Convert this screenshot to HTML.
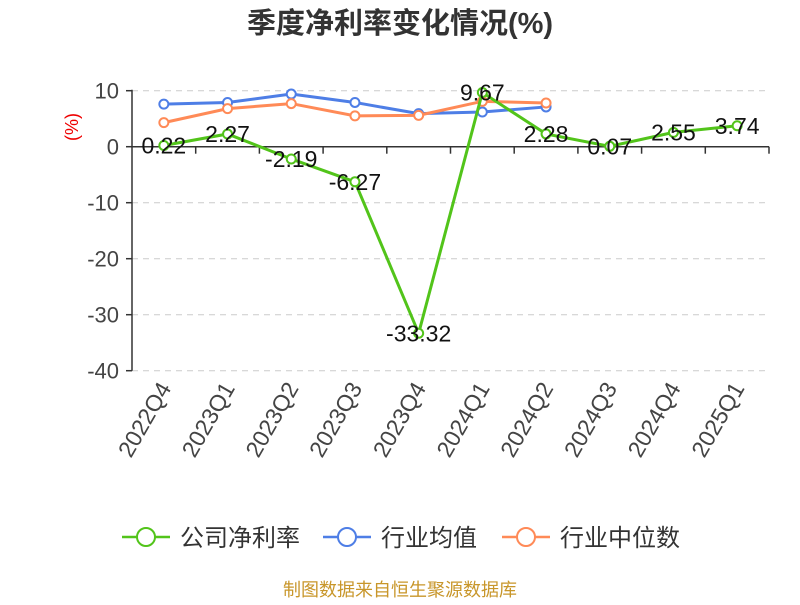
<!DOCTYPE html>
<html><head><meta charset="utf-8"><style>
body{margin:0;background:#fff;width:800px;height:600px;overflow:hidden;font-family:"Liberation Sans","Noto Sans CJK SC",sans-serif}
</style></head><body>
<svg id="c" width="800" height="600" font-family="Liberation Sans, Noto Sans CJK SC, sans-serif">
<text x="400" y="33" text-anchor="middle" font-size="29" font-weight="bold" fill="#333">季度净利率变化情况(%)</text>
<text x="78" y="127" transform="rotate(-90 78 127)" text-anchor="middle" font-size="18" fill="#e00">(%)</text>
<g id="grid"></g><g id="axes"></g><g id="series"></g>
<g font-size="24" fill="#333">
<g><line x1="122" y1="537" x2="170" y2="537" stroke="#52c41a" stroke-width="2.5"/><circle cx="146" cy="537" r="9" fill="#fff" stroke="#52c41a" stroke-width="2"/><text x="180" y="546">公司净利率</text></g>
<g><line x1="323" y1="537" x2="371" y2="537" stroke="#4e7ee6" stroke-width="2.5"/><circle cx="347" cy="537" r="9" fill="#fff" stroke="#4e7ee6" stroke-width="2"/><text x="381" y="546">行业均值</text></g>
<g><line x1="502" y1="537" x2="550" y2="537" stroke="#ff8a57" stroke-width="2.5"/><circle cx="526" cy="537" r="9" fill="#fff" stroke="#ff8a57" stroke-width="2"/><text x="560" y="546">行业中位数</text></g>
</g>
<text x="400" y="596" text-anchor="middle" font-size="18" fill="#c8962a">制图数据来自恒生聚源数据库</text>
</svg>
<script>
const categories=["2022Q4","2023Q1","2023Q2","2023Q3","2023Q4","2024Q1","2024Q2","2024Q3","2024Q4","2025Q1"];
const company=[0.22,2.27,-2.19,-6.27,-33.32,9.67,2.28,0.07,2.55,3.74];
const industryAvg=[7.6,7.9,9.4,7.9,5.9,6.2,7.1];
const industryMedian=[4.3,6.8,7.7,5.5,5.6,8.1,7.8];
const yTicks=[10,0,-10,-20,-30,-40];
const NS="http://www.w3.org/2000/svg";
const X0=132,X1=769,step=(X1-X0)/categories.length;
const x=i=>X0+step*(i+0.5);
const y=v=>146.7-v*5.6;
function mk(tag,attrs,parent){const e=document.createElementNS(NS,tag);for(const k in attrs)e.setAttribute(k,attrs[k]);parent.appendChild(e);return e;}
const grid=document.getElementById('grid'),axes=document.getElementById('axes'),ser=document.getElementById('series');
yTicks.forEach(t=>{
 if(t!==0){const l=mk('line',{x1:X0,x2:X1,y1:y(t),y2:y(t),stroke:'#ccc','stroke-dasharray':'6,5'},grid);
 
 }
 const tx=mk('text',{x:119,y:y(t)+8,'text-anchor':'end','font-size':22,fill:'#444'},axes);tx.textContent=t;
 
 
 mk('line',{x1:X0-6,x2:X0,y1:y(t),y2:y(t),stroke:'#333','stroke-width':1.5},axes);
});
mk('line',{x1:X0,x2:X0,y1:y(10)-1,y2:y(-40),stroke:'#333','stroke-width':1.5},axes);
mk('line',{x1:X0,x2:X1,y1:y(0),y2:y(0),stroke:'#333','stroke-width':1.5},axes);
categories.forEach((c,i)=>{
 mk('line',{x1:X0+step*(i+1),x2:X0+step*(i+1),y1:y(0),y2:y(0)+7,stroke:'#333','stroke-width':1.5},axes);
 const tx=mk('text',{x:x(i)+8,y:388,'text-anchor':'end','font-size':23,fill:'#444',transform:`rotate(-60 ${x(i)+8} 388)`},axes);tx.textContent=c;
 
 
});
function line(data,color,name){
 const g=mk('g',{},ser);
 
 
 mk('polyline',{points:data.map((v,i)=>x(i)+','+y(v)).join(' '),fill:'none',stroke:color,'stroke-width':3},g);
 data.forEach((v,i)=>{const p=mk('circle',{cx:x(i),cy:y(v),r:4.5,fill:'#fff',stroke:color,'stroke-width':2},g);
 
 });
 return g;
}
line(industryAvg,'#4e7ee6','industry-avg-line');
line(industryMedian,'#ff8a57','industry-median-line');
const g=line(company,'#52c41a','company-line');
company.forEach((v,i)=>{const t=mk('text',{x:x(i),y:y(v)+8,'text-anchor':'middle','font-size':23,fill:'#111'},g);t.textContent=v.toFixed(2);
 
 });
</script>
</body></html>
